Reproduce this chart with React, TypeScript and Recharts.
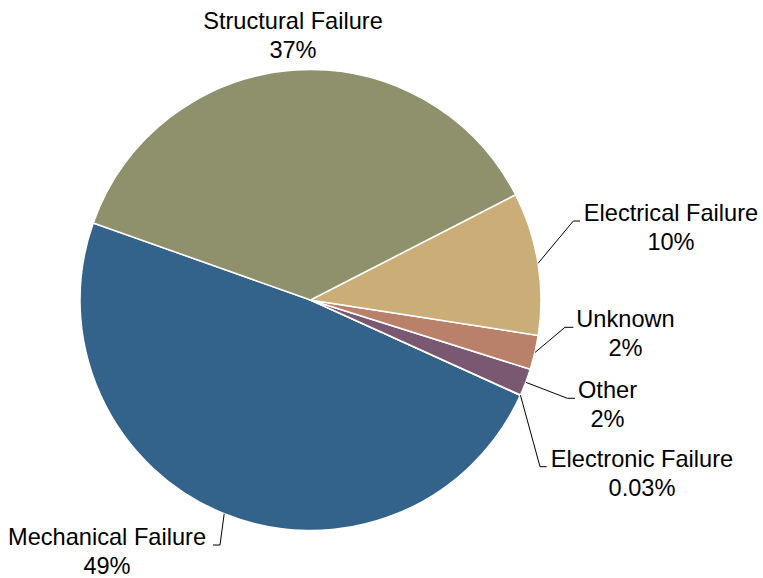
import { PieChart, Pie, Cell } from "recharts";

const categories = [
  "Mechanical Failure",
  "Electronic Failure",
  "Other",
  "Unknown",
  "Electrical Failure",
  "Structural Failure",
];
const shares = [48.6, 0.03, 1.9, 2.4, 10.0, 37.0];
const colors = ["#33628a", "#5e7f95", "#7a5872", "#b9806a", "#cbad78", "#8f916d"];

const pieData = categories.map((name, i) => ({ name, value: shares[i] }));

// label placement, relative to pie centre: elbow of leader, end of tail, text centre, baseline
const labelLayout = [
  { ex: -90.5, ey: 245, tx: -97.5, cx: -203.5, by: 245 },
  { ex: 229.5, ey: 166.7, tx: 236.2, cx: 331.5, by: 166.7 },
  { ex: 256.8, ey: 98.3, tx: 264.5, cx: 297, by: 98.3 },
  { ex: 254.5, ey: 27.3, tx: 262.8, cx: 315, by: 27.3 },
  { ex: 262.8, ey: -79, tx: 269.5, cx: 360.5, by: -79 },
  { ex: 0, ey: 0, tx: 0, cx: -17.5, by: -271, noLine: true },
];

const fmtPct = (v: number) => (v < 1 ? v.toFixed(2) : Math.round(v).toString()) + "%";

const CX = 310.5;
const CY = 300;
const R = 230.5;

function renderLabel(props: any) {
  const { cx, cy, midAngle, outerRadius, index } = props;
  const lay = labelLayout[index];
  const rad = (-midAngle * Math.PI) / 180;
  const ax = cx + outerRadius * Math.cos(rad);
  const ay = cy + outerRadius * Math.sin(rad);
  const tx = cx + lay.cx;
  const by = cy + lay.by;
  return (
    <g key={"lbl-" + index}>
      {!lay.noLine && (
        <polyline
          points={`${ax},${ay} ${cx + lay.ex},${cy + lay.ey} ${cx + lay.tx},${cy + lay.ey}`}
          fill="none"
          stroke="#000"
          strokeWidth={1}
        />
      )}
      <text x={tx} y={by} textAnchor="middle" fill="#000" fontSize={23.6}>
        {categories[index]}
      </text>
      <text x={tx} y={by + 29} textAnchor="middle" fill="#000" fontSize={23.6}>
        {fmtPct(shares[index])}
      </text>
    </g>
  );
}

export default function App() {
  return (
    <div
      style={{
        position: "absolute",
        left: 0,
        top: 0,
        width: 763,
        height: 578,
        background: "#fff",
        fontFamily: "Arial, 'Liberation Sans', sans-serif",
      }}
    >
      <PieChart width={763} height={578} margin={{ top: 0, right: 0, bottom: 0, left: 0 }}>
        <Pie
          data={pieData}
          dataKey="value"
          nameKey="name"
          cx={CX}
          cy={CY}
          outerRadius={R}
          startAngle={160.47}
          endAngle={520.47}
          stroke="#fff"
          strokeWidth={1.5}
          label={renderLabel}
          labelLine={false}
          isAnimationActive={false}
        >
          {pieData.map((d, i) => (
            <Cell key={d.name} fill={colors[i]} />
          ))}
        </Pie>
      </PieChart>
    </div>
  );
}
